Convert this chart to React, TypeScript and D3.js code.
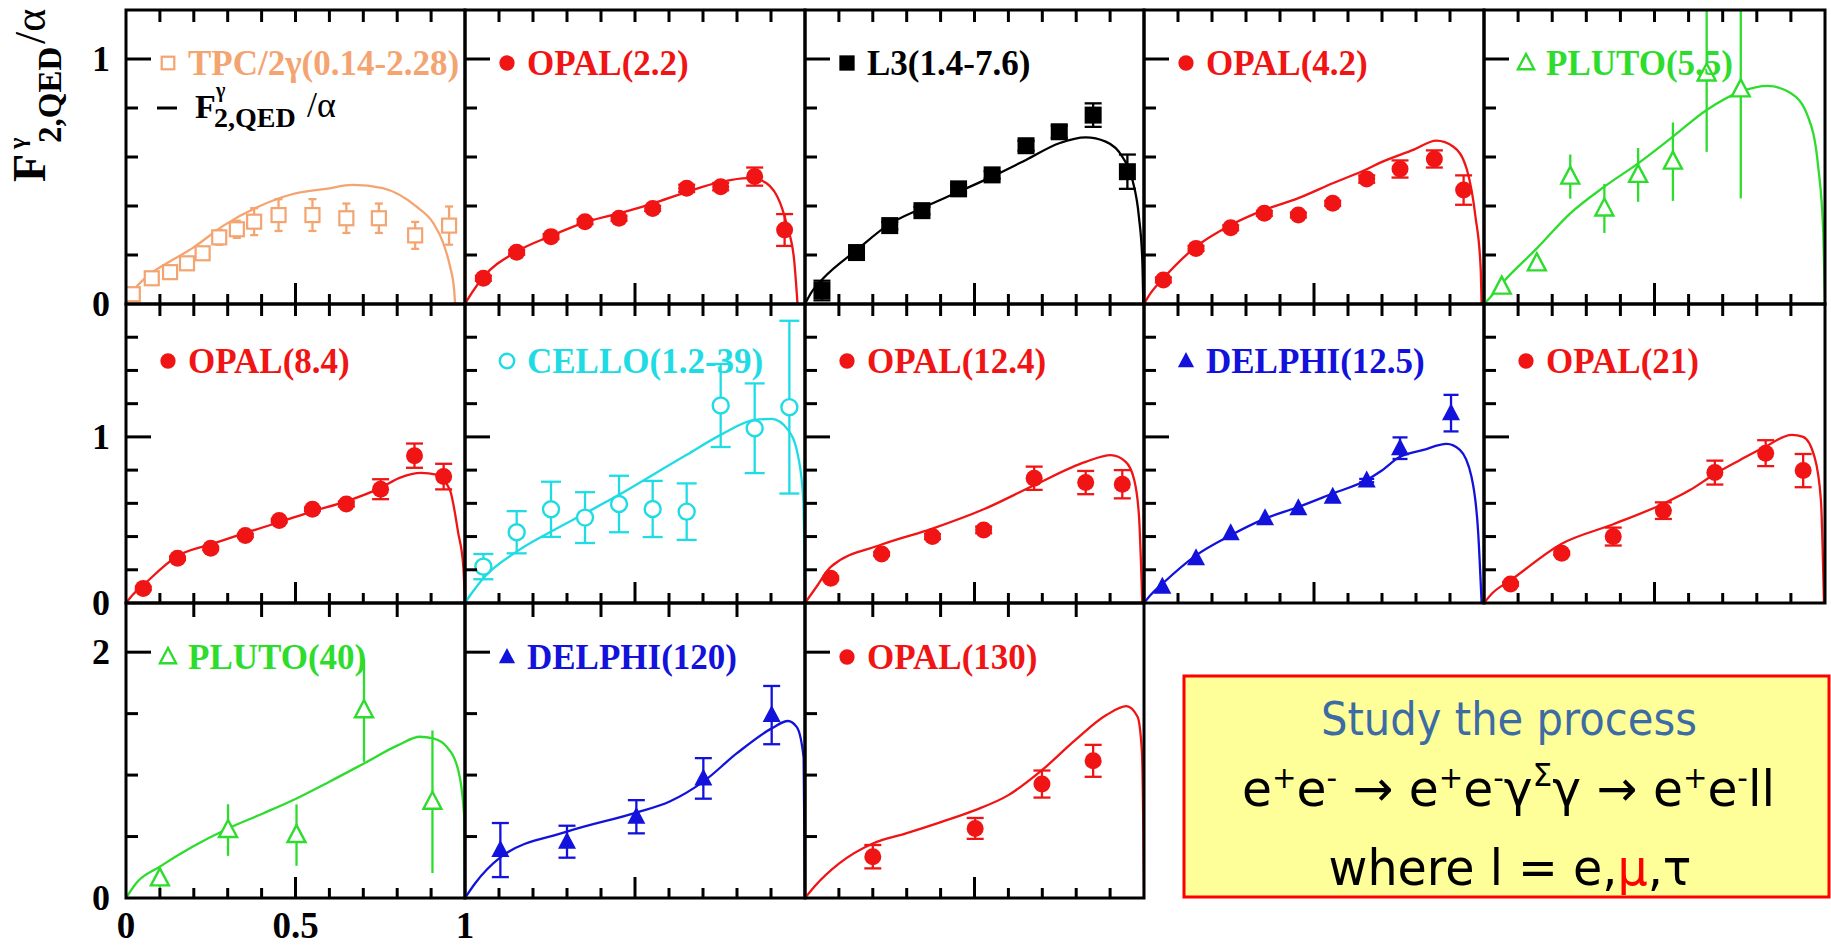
import React from 'react';
import * as d3 from 'd3';

// ---------- data ----------
const tpcX = [0.02, 0.076, 0.13, 0.18, 0.226, 0.275, 0.327, 0.378, 0.45, 0.55, 0.65, 0.746, 0.853, 0.953];
const tpcY = [0.04, 0.105, 0.13, 0.166, 0.207, 0.272, 0.305, 0.336, 0.363, 0.363, 0.35, 0.35, 0.28, 0.32];
const tpcErr = [0.01, 0.015, 0.015, 0.02, 0.02, 0.03, 0.035, 0.055, 0.065, 0.065, 0.06, 0.06, 0.055, 0.078];
const tpcCurveX = [0, 0.02, 0.061, 0.12, 0.195, 0.29, 0.39, 0.49, 0.59, 0.67, 0.757, 0.857, 0.907, 0.936, 0.956, 0.968, 0.971];
const tpcCurveY = [0, 0.05, 0.111, 0.166, 0.227, 0.322, 0.397, 0.448, 0.47, 0.486, 0.473, 0.397, 0.329, 0.248, 0.152, 0.057, 0];

const opal22X = [0.054, 0.152, 0.253, 0.353, 0.453, 0.552, 0.652, 0.752, 0.852, 0.94];
const opal22Y = [0.105, 0.211, 0.275, 0.336, 0.35, 0.39, 0.472, 0.479, 0.52, 0.302];
const opal22Err = [0.01, 0.01, 0.01, 0.01, 0.01, 0.01, 0.015, 0.015, 0.037, 0.065];
const opal22CurveX = [0, 0.02, 0.054, 0.152, 0.253, 0.353, 0.453, 0.552, 0.652, 0.752, 0.83, 0.87, 0.918, 0.948, 0.968, 0.978];
const opal22CurveY = [0, 0.045, 0.11, 0.214, 0.278, 0.333, 0.37, 0.41, 0.457, 0.498, 0.514, 0.505, 0.44, 0.316, 0.18, 0];

const l3X = [0.05, 0.152, 0.25, 0.345, 0.453, 0.552, 0.652, 0.75, 0.85, 0.951];
const l3Y = [0.055, 0.21, 0.32, 0.381, 0.47, 0.527, 0.646, 0.703, 0.771, 0.54];
const l3Err = [0.04, 0.015, 0.015, 0.015, 0.015, 0.015, 0.02, 0.025, 0.048, 0.07];
const l3CurveX = [0, 0.02, 0.054, 0.152, 0.25, 0.343, 0.453, 0.552, 0.652, 0.75, 0.828, 0.887, 0.936, 0.966, 0.985, 0.995, 0.998];
const l3CurveY = [0, 0.05, 0.105, 0.22, 0.327, 0.39, 0.458, 0.52, 0.588, 0.656, 0.68, 0.663, 0.601, 0.506, 0.356, 0.18, 0];

const opal42X = [0.057, 0.153, 0.255, 0.354, 0.454, 0.555, 0.655, 0.753, 0.854, 0.94];
const opal42Y = [0.098, 0.227, 0.311, 0.37, 0.363, 0.411, 0.51, 0.551, 0.592, 0.465];
const opal42Err = [0.01, 0.01, 0.01, 0.01, 0.01, 0.01, 0.015, 0.035, 0.035, 0.06];
const opal42CurveX = [0, 0.02, 0.057, 0.153, 0.255, 0.354, 0.454, 0.555, 0.655, 0.7, 0.792, 0.86, 0.91, 0.95, 0.975, 0.99, 0.993];
const opal42CurveY = [0, 0.045, 0.105, 0.234, 0.322, 0.384, 0.432, 0.493, 0.55, 0.58, 0.629, 0.667, 0.642, 0.547, 0.356, 0.152, 0];

const pluto55X = [0.052, 0.155, 0.253, 0.353, 0.452, 0.554, 0.653, 0.753];
const pluto55Y = [0.071, 0.166, 0.52, 0.39, 0.527, 0.581, 0.941, 0.876];
const pluto55Err = [0.0, 0.03, 0.09, 0.1, 0.11, 0.16, 0.32, 0.445];
const pluto55CurveX = [0, 0.02, 0.052, 0.155, 0.253, 0.353, 0.452, 0.554, 0.653, 0.753, 0.832, 0.9, 0.95, 0.98, 0.995, 1.0];
const pluto55CurveY = [0, 0.03, 0.083, 0.227, 0.37, 0.479, 0.574, 0.683, 0.792, 0.867, 0.89, 0.86, 0.765, 0.561, 0.288, 0];

const opal84X = [0.051, 0.152, 0.25, 0.352, 0.452, 0.55, 0.65, 0.751, 0.851, 0.937];
const opal84Y = [0.088, 0.269, 0.329, 0.406, 0.496, 0.564, 0.596, 0.685, 0.887, 0.761];
const opal84Err = [0.01, 0.01, 0.01, 0.01, 0.01, 0.01, 0.015, 0.06, 0.073, 0.077];
const opal84CurveX = [0, 0.02, 0.051, 0.152, 0.25, 0.352, 0.452, 0.55, 0.65, 0.751, 0.807, 0.871, 0.915, 0.955, 0.98, 0.995, 1.0];
const opal84CurveY = [0, 0.05, 0.108, 0.283, 0.353, 0.422, 0.486, 0.552, 0.612, 0.693, 0.753, 0.783, 0.773, 0.683, 0.422, 0.22, 0];

const celloX = [0.054, 0.152, 0.253, 0.353, 0.453, 0.552, 0.652, 0.752, 0.852, 0.954];
const celloY = [0.219, 0.426, 0.564, 0.514, 0.596, 0.566, 0.55, 1.189, 1.052, 1.179];
const celloErr = [0.076, 0.127, 0.166, 0.153, 0.17, 0.169, 0.17, 0.25, 0.27, 0.52];
const celloCurveX = [0, 0.02, 0.054, 0.152, 0.253, 0.353, 0.453, 0.552, 0.652, 0.752, 0.852, 0.902, 0.95, 0.98, 0.995, 1.0];
const celloCurveY = [0, 0.06, 0.149, 0.309, 0.43, 0.54, 0.651, 0.771, 0.892, 1.012, 1.102, 1.108, 1.042, 0.881, 0.62, 0];

const opal124X = [0.076, 0.226, 0.376, 0.527, 0.676, 0.828, 0.936];
const opal124Y = [0.149, 0.295, 0.4, 0.44, 0.751, 0.725, 0.715];
const opal124Err = [0.01, 0.01, 0.015, 0.02, 0.07, 0.07, 0.085];
const opal124CurveX = [0, 0.034, 0.076, 0.226, 0.376, 0.527, 0.676, 0.828, 0.902, 0.946, 0.97, 0.985, 0.995];
const opal124CurveY = [0, 0.098, 0.218, 0.352, 0.448, 0.564, 0.709, 0.85, 0.89, 0.85, 0.75, 0.53, 0];

const delphi125X = [0.054, 0.153, 0.255, 0.356, 0.454, 0.555, 0.655, 0.753, 0.903];
const delphi125Y = [0.098, 0.269, 0.42, 0.51, 0.57, 0.64, 0.737, 0.932, 1.143];
const delphi125Err = [0, 0, 0, 0, 0, 0, 0.01, 0.065, 0.11];
const delphi125CurveX = [0, 0.02, 0.054, 0.153, 0.255, 0.356, 0.454, 0.555, 0.655, 0.694, 0.753, 0.822, 0.89, 0.929, 0.963, 0.983, 0.993];
const delphi125CurveY = [0, 0.05, 0.116, 0.287, 0.408, 0.508, 0.578, 0.659, 0.74, 0.79, 0.88, 0.922, 0.958, 0.922, 0.761, 0.42, 0];

const opal21X = [0.078, 0.228, 0.379, 0.526, 0.677, 0.826, 0.936];
const opal21Y = [0.114, 0.299, 0.4, 0.556, 0.785, 0.902, 0.797];
const opal21Err = [0.01, 0.01, 0.054, 0.05, 0.072, 0.078, 0.1];
const opal21CurveX = [0, 0.025, 0.078, 0.228, 0.379, 0.526, 0.604, 0.677, 0.751, 0.826, 0.902, 0.936, 0.969, 0.988, 0.997];
const opal21CurveY = [0, 0.06, 0.137, 0.357, 0.474, 0.598, 0.68, 0.777, 0.861, 0.942, 1.012, 1.0, 0.881, 0.62, 0];

const pluto40X = [0.1, 0.301, 0.503, 0.702, 0.904];
const pluto40Y = [0.16, 0.553, 0.512, 1.528, 0.783];
const pluto40Err = [0.08, 0.21, 0.25, 0.42, 0.58];
const pluto40CurveX = [0, 0.03, 0.1, 0.196, 0.301, 0.404, 0.503, 0.6, 0.702, 0.803, 0.867, 0.906, 0.946, 0.98, 0.997, 1.0];
const pluto40CurveY = [0, 0.12, 0.255, 0.417, 0.566, 0.688, 0.81, 0.946, 1.095, 1.244, 1.312, 1.298, 1.23, 1.04, 0.688, 0];

const delphi120X = [0.104, 0.3, 0.504, 0.701, 0.902];
const delphi120Y = [0.39, 0.458, 0.661, 0.973, 1.488];
const delphi120Err = [0.22, 0.13, 0.135, 0.165, 0.237];
const delphi120CurveX = [0, 0.03, 0.104, 0.3, 0.504, 0.602, 0.701, 0.8, 0.902, 0.95, 0.976, 0.996, 1.0];
const delphi120CurveY = [0, 0.12, 0.33, 0.54, 0.695, 0.785, 0.947, 1.178, 1.38, 1.44, 1.39, 1.14, 0];

const opal130X = [0.2, 0.502, 0.699, 0.85];
const opal130Y = [0.336, 0.566, 0.927, 1.116];
const opal130Err = [0.095, 0.085, 0.11, 0.13];
const opal130CurveX = [0, 0.03, 0.101, 0.2, 0.298, 0.403, 0.502, 0.6, 0.699, 0.797, 0.889, 0.948, 0.981, 0.994, 0.998, 1.0];
const opal130CurveY = [0, 0.1, 0.282, 0.444, 0.526, 0.62, 0.715, 0.837, 1.04, 1.284, 1.488, 1.561, 1.474, 1.18, 0.56, 0];

const rowMax = [1.2, 1.8, 2.4];
const rowTickStep = [0.2, 0.2, 0.5];
const rowMajor = [1, 1, 2];
const rowTickLabels = [['0', '1'], ['0', '1'], ['0', '2']];
const xTickLabels = ['0', '0.5', '1'];

// ---------- layout / style ----------
const W = 1831, H = 948;
const colEdges = [126, 465, 805, 1144, 1484, 1825];
const rowEdges = [10, 304, 603, 898];
const legendY = [63, 361, 657];
const ORANGE = '#F4A470';
const RED = '#F01414';
const GREEN = '#2EDC2E';
const CYAN = '#1FDCE4';
const BLUE = '#1212DC';
const BLACK = '#000';
const SERIF = "'Liberation Serif', 'Times New Roman', serif";

type Panel = {
  row: number; col: number; label: string; color: string; marker: string; cap: number;
  x: number[]; y: number[]; err: number[]; cx: number[]; cy: number[];
};

const panels: Panel[] = [
  { row: 0, col: 0, label: 'TPC/2γ(0.14-2.28)', color: ORANGE, marker: 'squareOpen', cap: 8, x: tpcX, y: tpcY, err: tpcErr, cx: tpcCurveX, cy: tpcCurveY },
  { row: 0, col: 1, label: 'OPAL(2.2)', color: RED, marker: 'circleFilled', cap: 17, x: opal22X, y: opal22Y, err: opal22Err, cx: opal22CurveX, cy: opal22CurveY },
  { row: 0, col: 2, label: 'L3(1.4-7.6)', color: BLACK, marker: 'squareFilled', cap: 17, x: l3X, y: l3Y, err: l3Err, cx: l3CurveX, cy: l3CurveY },
  { row: 0, col: 3, label: 'OPAL(4.2)', color: RED, marker: 'circleFilled', cap: 17, x: opal42X, y: opal42Y, err: opal42Err, cx: opal42CurveX, cy: opal42CurveY },
  { row: 0, col: 4, label: 'PLUTO(5.5)', color: GREEN, marker: 'triOpen', cap: 0, x: pluto55X, y: pluto55Y, err: pluto55Err, cx: pluto55CurveX, cy: pluto55CurveY },
  { row: 1, col: 0, label: 'OPAL(8.4)', color: RED, marker: 'circleFilled', cap: 17, x: opal84X, y: opal84Y, err: opal84Err, cx: opal84CurveX, cy: opal84CurveY },
  { row: 1, col: 1, label: 'CELLO(1.2-39)', color: CYAN, marker: 'circleOpen', cap: 20, x: celloX, y: celloY, err: celloErr, cx: celloCurveX, cy: celloCurveY },
  { row: 1, col: 2, label: 'OPAL(12.4)', color: RED, marker: 'circleFilled', cap: 17, x: opal124X, y: opal124Y, err: opal124Err, cx: opal124CurveX, cy: opal124CurveY },
  { row: 1, col: 3, label: 'DELPHI(12.5)', color: BLUE, marker: 'triFilled', cap: 15, x: delphi125X, y: delphi125Y, err: delphi125Err, cx: delphi125CurveX, cy: delphi125CurveY },
  { row: 1, col: 4, label: 'OPAL(21)', color: RED, marker: 'circleFilled', cap: 17, x: opal21X, y: opal21Y, err: opal21Err, cx: opal21CurveX, cy: opal21CurveY },
  { row: 2, col: 0, label: 'PLUTO(40)', color: GREEN, marker: 'triOpen', cap: 0, x: pluto40X, y: pluto40Y, err: pluto40Err, cx: pluto40CurveX, cy: pluto40CurveY },
  { row: 2, col: 1, label: 'DELPHI(120)', color: BLUE, marker: 'triFilled', cap: 17, x: delphi120X, y: delphi120Y, err: delphi120Err, cx: delphi120CurveX, cy: delphi120CurveY },
  { row: 2, col: 2, label: 'OPAL(130)', color: RED, marker: 'circleFilled', cap: 17, x: opal130X, y: opal130Y, err: opal130Err, cx: opal130CurveX, cy: opal130CurveY },
];

function Marker({ type, x, y, color, legend }: { type: string; x: number; y: number; color: string; legend?: boolean }) {
  const s = legend ? 0.9 : 1;
  switch (type) {
    case 'circleFilled':
      return <circle cx={x} cy={y} r={8.5 * s} fill={color} />;
    case 'circleOpen':
      return <circle cx={x} cy={y} r={8 * s} fill="white" stroke={color} strokeWidth={2.4} />;
    case 'squareOpen':
      return <rect x={x - 7 * s} y={y - 7 * s} width={14 * s} height={14 * s} fill="white" stroke={color} strokeWidth={2.2} />;
    case 'squareFilled':
      return <rect x={x - 8.5 * s} y={y - 8.5 * s} width={17 * s} height={17 * s} fill={color} />;
    case 'triOpen':
      return <path d={`M${x},${y - 10 * s}L${x - 9 * s},${y + 7 * s}L${x + 9 * s},${y + 7 * s}Z`} fill="white" stroke={color} strokeWidth={2.4} />;
    case 'triFilled':
      return <path d={`M${x},${y - 10 * s}L${x - 9 * s},${y + 7 * s}L${x + 9 * s},${y + 7 * s}Z`} fill={color} />;
    default:
      return null;
  }
}

function PanelView({ p }: { p: Panel }) {
  const x0 = colEdges[p.col], x1 = colEdges[p.col + 1];
  const yTop = rowEdges[p.row], yBot = rowEdges[p.row + 1];
  const xs = d3.scaleLinear().domain([0, 1]).range([x0, x1]);
  const ys = d3.scaleLinear().domain([0, rowMax[p.row]]).range([yBot, yTop]);
  const idx = d3.range(p.cx.length);
  const line = d3.line<number>().x(i => xs(p.cx[i])).y(i => ys(p.cy[i])).curve(d3.curveMonotoneX);
  const clipId = `clip-${p.row}-${p.col}`;
  const step = rowTickStep[p.row];
  const yTicks = d3.range(step, rowMax[p.row] - 1e-6, step);
  const xTicks = d3.range(1, 10).map(i => i / 10);
  const topTicks = p.row === 2 ? [0.2, 0.4, 0.6, 0.8] : xTicks;
  return (
    <g>
      <clipPath id={clipId}>
        <rect x={x0} y={yTop} width={x1 - x0} height={yBot - yTop} />
      </clipPath>
      <g clipPath={`url(#${clipId})`}>
        <path d={line(idx) || ''} fill="none" stroke={p.color} strokeWidth={2.3} />
        {p.x.map((xv, i) => {
          const cx = xs(xv), cy = ys(p.y[i]);
          const e = p.err[i];
          const ya = ys(p.y[i] + e), yb = ys(p.y[i] - e);
          return (
            <g key={i}>
              {e > 0 && <line x1={cx} x2={cx} y1={ya} y2={yb} stroke={p.color} strokeWidth={2.3} />}
              {e > 0 && p.cap > 0 && (
                <g stroke={p.color} strokeWidth={2.3}>
                  <line x1={cx - p.cap / 2} x2={cx + p.cap / 2} y1={ya} y2={ya} />
                  <line x1={cx - p.cap / 2} x2={cx + p.cap / 2} y1={yb} y2={yb} />
                </g>
              )}
              <Marker type={p.marker} x={cx} y={cy} color={p.color} />
            </g>
          );
        })}
      </g>
      {/* frame and ticks */}
      <g stroke="#000" strokeWidth={3}>
        {yTicks.map((t, i) => {
          const isMajor = Math.abs(t - rowMajor[p.row]) < 1e-6;
          return <line key={'y' + i} x1={x0} x2={x0 + (isMajor ? 25 : 12)} y1={ys(t)} y2={ys(t)} />;
        })}
        {xTicks.map((t, i) => (
          <line key={'b' + i} x1={xs(t)} x2={xs(t)} y1={yBot} y2={yBot - (Math.abs(t - 0.5) < 1e-6 ? 21 : 10)} />
        ))}
        {topTicks.map((t, i) => (
          <line key={'t' + i} x1={xs(t)} x2={xs(t)} y1={yTop} y2={yTop + (p.row === 2 ? 14 : 12)} />
        ))}
        <rect x={x0} y={yTop} width={x1 - x0} height={yBot - yTop} fill="none" />
      </g>
      {/* legend */}
      <Marker type={p.marker} x={x0 + 42} y={legendY[p.row]} color={p.color} legend />
      <text x={x0 + 62} y={legendY[p.row] + 12} fill={p.color} fontFamily={SERIF} fontWeight="bold" fontSize={35}>
        {p.label}
      </text>
    </g>
  );
}

export default function App() {
  const xs0 = d3.scaleLinear().domain([0, 1]).range([colEdges[0], colEdges[1]]);
  const rowScales = rowMax.map((m, r) => d3.scaleLinear().domain([0, m]).range([rowEdges[r + 1], rowEdges[r]]));
  return (
    <svg width={W} height={H} style={{ position: 'absolute', left: 0, top: 0, background: '#fff' }}>
      <rect x={0} y={0} width={W} height={H} fill="#fff" />
      {panels.map((p, i) => <PanelView key={i} p={p} />)}

      {/* second legend line of first panel */}
      <line x1={157} x2={177} y1={108} y2={108} stroke="#000" strokeWidth={3} />
      <g fontFamily={SERIF} fill="#000">
        <text x={195} y={118} fontSize={34} fontWeight="bold">F</text>
        <text x={216} y={97} fontSize={20} fontWeight="bold">γ</text>
        <text x={214} y={127} fontSize={28} fontWeight="bold">2,QED</text>
        <text x={307} y={117} fontSize={36}>/α</text>
      </g>

      {/* y tick labels */}
      <g fontFamily={SERIF} fontWeight="bold" fontSize={36} textAnchor="end" fill="#000">
        {rowScales.map((s, r) => (
          <g key={r}>
            <text x={110} y={s(0) + 12}>{rowTickLabels[r][0]}</text>
            <text x={110} y={s(rowMajor[r]) + 12}>{rowTickLabels[r][1]}</text>
          </g>
        ))}
      </g>
      {/* x tick labels */}
      <g fontFamily={SERIF} fontWeight="bold" fontSize={37} textAnchor="middle" fill="#000">
        {[0, 0.5, 1].map((v, i) => (
          <text key={i} x={xs0(v)} y={938}>{xTickLabels[i]}</text>
        ))}
      </g>

      {/* y axis title */}
      <g transform="translate(45,182) rotate(-90)" fontFamily={SERIF} fill="#000">
        <text x={0} y={0} fontSize={46} fontWeight="bold">F</text>
        <text x={33} y={-20} fontSize={24} fontWeight="bold">γ</text>
        <text x={39} y={16} fontSize={33} fontWeight="bold">2,QED</text>
        <text x={138} y={0} fontSize={44}>/α</text>
      </g>

      {/* annotation box */}
      <rect x={1184} y={676} width={645} height={221} fill="#FFFF99" stroke="#F00" strokeWidth={3} />
      <text x={1509} y={735} textAnchor="middle" fontFamily="'DejaVu Sans', Verdana, sans-serif" fontSize={46}
        fill="#3D6BA3" textLength={376} lengthAdjust="spacingAndGlyphs">Study the process</text>
      <text x={1242} y={806} fontFamily="'DejaVu Sans', sans-serif" fontSize={50} fill="#000"
        textLength={533} lengthAdjust="spacingAndGlyphs">
        e<tspan dy={-18} fontSize={30}>+</tspan><tspan dy={18}>e</tspan><tspan dy={-18} fontSize={30}>-</tspan>
        <tspan dy={18}> → e</tspan><tspan dy={-18} fontSize={30}>+</tspan><tspan dy={18}>e</tspan>
        <tspan dy={-18} fontSize={30}>-</tspan><tspan dy={18}>γ</tspan><tspan dy={-20} fontSize={32}>Σ</tspan>
        <tspan dy={20}>γ → e</tspan><tspan dy={-18} fontSize={30}>+</tspan><tspan dy={18}>e</tspan>
        <tspan dy={-18} fontSize={30}>-</tspan><tspan dy={18}>ll</tspan>
      </text>
      <text x={1510} y={885} textAnchor="middle" fontFamily="'DejaVu Sans', sans-serif" fontSize={50} fill="#000"
        textLength={363} lengthAdjust="spacingAndGlyphs">
        where l = e,<tspan fill="#F00">μ</tspan>,τ
      </text>
    </svg>
  );
}
